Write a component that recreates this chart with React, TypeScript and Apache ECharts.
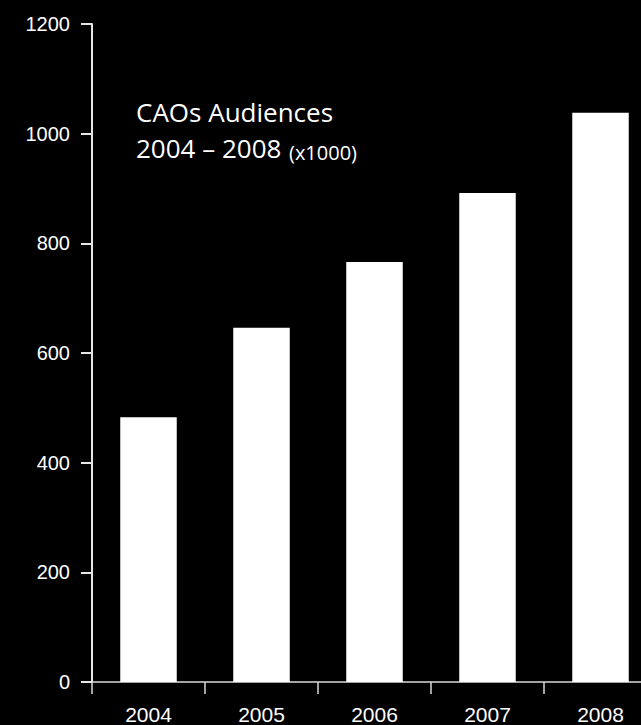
import React, { useEffect, useRef } from "react";
import * as echarts from "echarts";

const categories = ["2004", "2005", "2006", "2007", "2008"];
const audiences = [483, 646, 766, 892, 1038];
const titleLine1 = "CAOs Audiences";
const titleLine2 = "2004 – 2008";
const titleUnit = "(x1000)";

export default function App() {
  const ref = useRef<HTMLDivElement>(null);
  useEffect(() => {
    document.documentElement.style.overflow = "hidden";
    document.body.style.margin = "0";
    document.body.style.overflow = "hidden";
    document.body.style.background = "#000";
    const chart = echarts.init(ref.current!, null, { renderer: "svg" });
    chart.setOption({
      animation: false,
      backgroundColor: "#000000",
      grid: { left: 92, top: 24, right: 0, bottom: 43, containLabel: false },
      xAxis: {
        type: "category",
        data: categories,
        boundaryGap: true,
        axisLine: { show: true, lineStyle: { color: "#d9d9d9", width: 1.5 } },
        axisTick: { show: true, alignWithLabel: false, length: 12, lineStyle: { color: "#d9d9d9", width: 1.5 } },
        axisLabel: { color: "#ffffff", fontFamily: "Arial, 'Liberation Sans'", fontSize: 21, margin: 22 },
        splitLine: { show: false },
      },
      yAxis: {
        type: "value",
        min: 0,
        max: 1200,
        interval: 200,
        axisLine: { show: true, lineStyle: { color: "#e6e6e6", width: 2 } },
        axisTick: { show: true, inside: false, length: 11, lineStyle: { color: "#e6e6e6", width: 2 } },
        axisLabel: {
          color: "#ffffff",
          fontFamily: "Arial, 'Liberation Sans'",
          fontSize: 20,
          margin: 22,
          formatter: (v: number) => String(v),
        },
        splitLine: { show: false },
      },
      series: [
        {
          type: "bar",
          data: audiences,
          barWidth: "50%",
          itemStyle: { color: "#ffffff" },
        },
      ],
      graphic: [
        {
          type: "text",
          left: 136,
          top: 99,
          style: {
            text: titleLine1,
            fill: "#ffffff",
            font: "26px 'Open Sans'",
          },
        },
        {
          type: "text",
          left: 136,
          top: 135,
          style: {
            text: titleLine2,
            fill: "#ffffff",
            font: "26px 'Open Sans'",
          },
        },
        {
          type: "text",
          left: 289,
          top: 142,
          style: {
            text: titleUnit,
            fill: "#ffffff",
            font: "20px 'Open Sans'",
          },
        },
      ],
    });
    return () => chart.dispose();
  }, []);
  return <div ref={ref} style={{ width: 657, height: 725 }} />;
}
